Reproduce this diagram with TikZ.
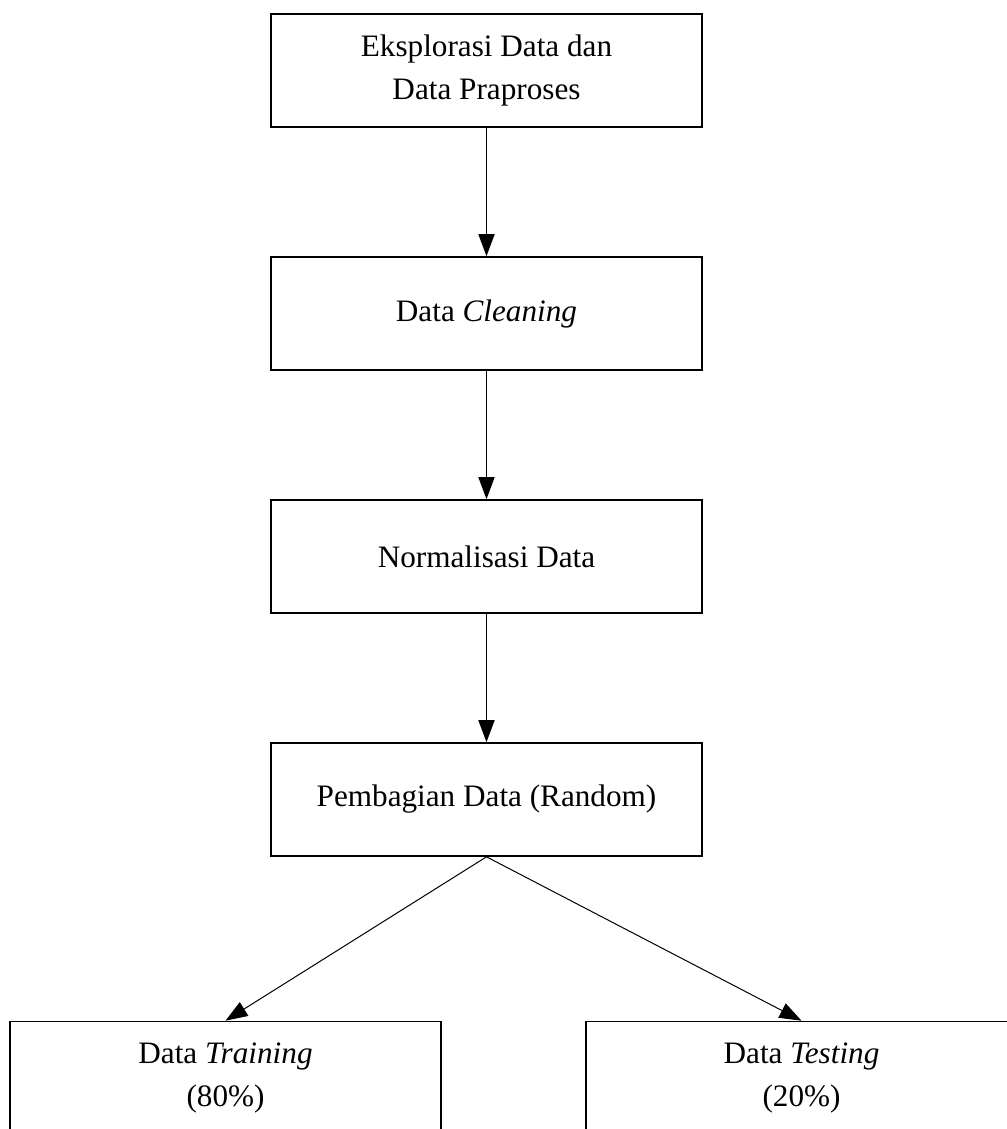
\documentclass[tikz,border=0pt]{standalone}
\usepackage{fontspec}
\setmainfont{Liberation Serif}
\usetikzlibrary{arrows.meta,positioning}
\begin{document}
\begin{tikzpicture}[
    node distance=121.5pt,
    stepbox/.style={rectangle, draw=black, line width=0.8pt, minimum width=215.5pt, minimum height=56.5pt, align=center, font=\fontsize{15.6}{21.5}\selectfont},
    arrow/.style={-{Triangle[length=11pt,width=8pt]}, line width=0.8pt, black}
]
\useasboundingbox (-243.25pt,35.25pt) rectangle (259.75pt,-529.25pt);
\node[stepbox] (explore) {Eksplorasi Data dan\\Data Praproses};
\node[stepbox, below of=explore] (clean) {Data \textit{Cleaning}};
\node[stepbox, below of=clean] (norm) {Normalisasi Data};
\node[stepbox, below of=norm] (split) {Pembagian Data (Random)};
\node[stepbox, node distance=139.25pt, below of=split, xshift=-130.5pt] (train) {Data \textit{Training}\\(80\%)};
\node[stepbox, node distance=139.25pt, below of=split, xshift=157.5pt] (test) {Data \textit{Testing}\\(20\%)};

\draw[arrow] (explore) -- (clean);
\draw[arrow] (clean) -- (norm);
\draw[arrow] (norm) -- (split);
\draw[arrow, line width=0.5pt] (split.south) -- (train.north);
\draw[arrow, line width=0.5pt] (split.south) -- (test.north);
\end{tikzpicture}
\end{document}
